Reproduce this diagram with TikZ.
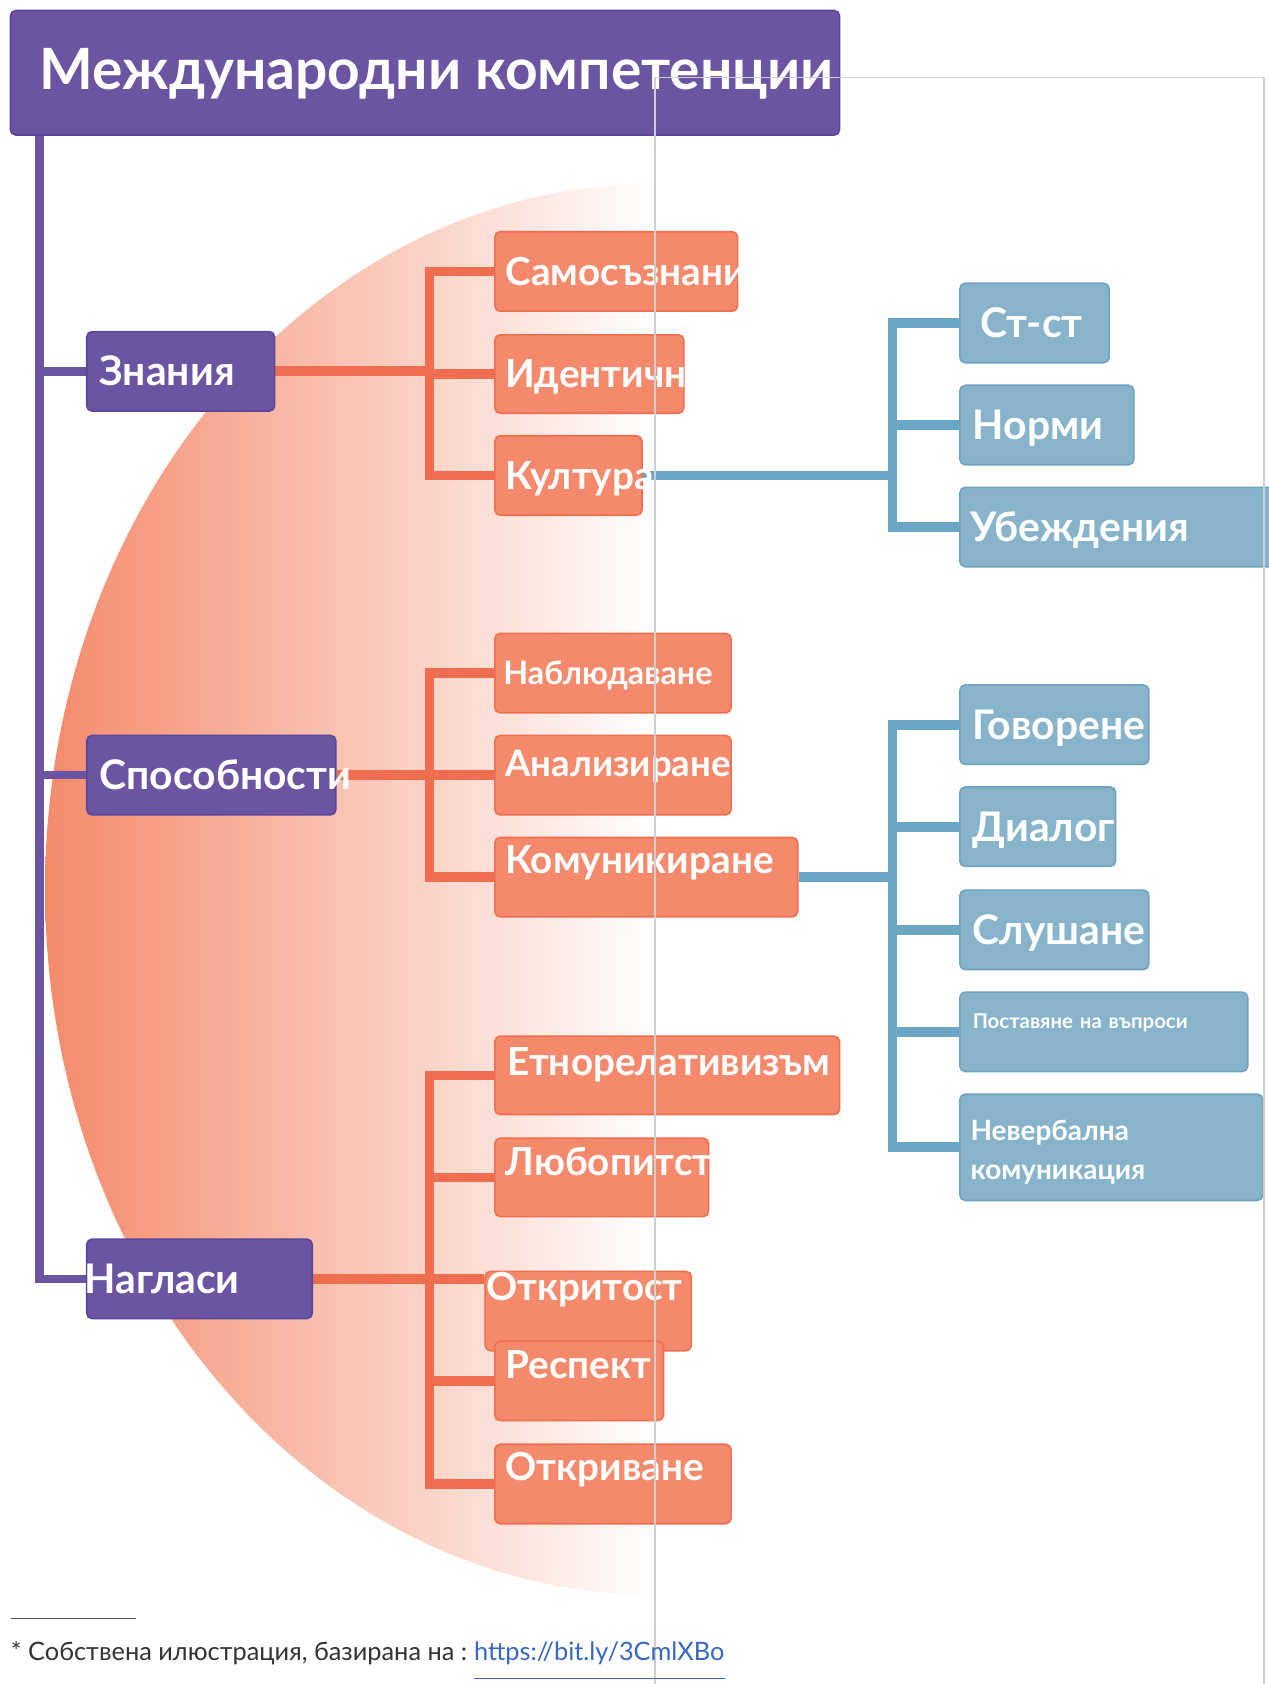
\documentclass[tikz,border=0pt]{standalone}
\usepackage{fontspec}
\setmainfont{Lato}
\usepackage{tikz}
\usetikzlibrary{positioning, backgrounds}

\definecolor{cPurple}{HTML}{6B55A3}
\definecolor{cPurpleD}{HTML}{5A469A}
\definecolor{cOrange}{HTML}{F4896C}
\definecolor{cOrangeD}{HTML}{EF6E4F}
\definecolor{cBlue}{HTML}{88B4CB}
\definecolor{cBlueD}{HTML}{6FA4C1}
\definecolor{cBlueL}{HTML}{6BA6C4}
\definecolor{cGrad}{HTML}{F48A6B}
\definecolor{cGrey}{HTML}{CFCFCF}
\definecolor{cRule}{HTML}{555555}
\definecolor{cText}{HTML}{333333}
\definecolor{cLink}{HTML}{3568C0}

\begin{document}
\begin{tikzpicture}[x=1pt, y=-1pt,
    box/.style={rounded corners=5pt, line width=1.5pt, anchor=north west,
                align=left, inner ysep=0pt, minimum height=74pt, text=white},
    pbox/.style={box, fill=cPurple, draw=cPurpleD, inner xsep=12pt, text height=27pt,
                 text depth=0pt, font=\bfseries\fontsize{38}{40}\selectfont},
    obox/.style={box, fill=cOrange, draw=cOrangeD, inner xsep=10pt, text height=26pt,
                 text depth=0pt, font=\bfseries\fontsize{36}{40}\selectfont},
    bbox/.style={box, fill=cBlue, draw=cBlueD, inner xsep=12pt, text height=27pt,
                 text depth=0pt, font=\bfseries\fontsize{38}{40}\selectfont},
    pline/.style={cPurple, line width=8pt},
    oline/.style={cOrangeD, line width=9pt},
    bline/.style={cBlueL, line width=9pt},
    gline/.style={cGrey, line width=1.5pt},
    foot/.style={inner sep=0pt, text=cText, font=\fontsize{23.6}{28}\selectfont}
]
\useasboundingbox (0,0) rectangle (1181,1568);

% background half disc
\begin{scope}[on background layer]
  \shade[left color=cGrad, middle color=cGrad!58!white, right color=white]
    (610,171) arc[start angle=270, end angle=90, x radius=568, y radius=657] -- cycle;
\end{scope}

\node[box, fill=cPurple, draw=cPurpleD, minimum width=772pt, minimum height=116pt,
      text height=38pt, text depth=7pt, font=\bfseries\fontsize{53}{58}\selectfont]
      (title) at (9,9) {\hspace*{22pt}Международни компетенции};

% main branches
\node[pbox, text width=151pt] (znan) at (80,308) {Знания};
\node[pbox, text width=208pt] (spos) at (80,684) {Способности};
\node[pbox, inner xsep=-2pt, text width=214pt] (nagl) at (80,1153) {Нагласи};

% Знания
\node[obox, text width=206pt] (samo) at (460,215) {Самосъзнани};
\node[obox, text width=156pt, minimum height=73pt] (iden) at (460,311) {Идентичн};
\node[obox, text width=117pt] (kult) at (460,405) {Култура};

% Способности
\node[obox, inner xsep=8pt, text width=204pt, text height=21.5pt,
      font=\bfseries\fontsize{30}{34}\selectfont] (nabl) at (460,589) {Наблюдаване};
\node[obox, text width=200pt, text height=24.4pt, text depth=22pt,
      font=\bfseries\fontsize{34}{38}\selectfont] (anal) at (460,684) {Анализиране};
\node[obox, text width=262pt, text depth=32pt] (komu) at (460,779) {Комуникиране};

% Нагласи
\node[obox, inner xsep=12pt, text width=297pt, minimum height=73pt, text depth=26pt]
      (etno) at (460,964) {Етнорелативизъм};
\node[obox, text width=179pt, minimum height=73pt, text depth=30pt] (lubo) at (460,1059) {Любопитст};
\node[obox, inner xsep=1pt, text width=190pt, text depth=46pt] (otkt) at (451,1183) {Откритост};
\node[obox, text width=137pt, text depth=30pt] (resp) at (460,1248) {Респект};
\node[obox, text width=200pt, text depth=32pt] (otkv) at (460,1344) {Откриване};

% Култура
\node[bbox, inner xsep=19pt, text width=101pt] (stst) at (893,263) {Ст-ст};
\node[bbox, text width=138pt] (norm) at (893,358) {Норми};
\node[bbox, inner xsep=10pt, text width=280pt] (ubej) at (893,453) {Убеждения};

% Комуникиране
\node[bbox, text width=152pt] (govo) at (893,637) {Говорене};
\node[bbox, text width=121pt] (dial) at (893,732) {Диалог};
\node[bbox, text width=152pt] (slus) at (893,828) {Слушане};
\node[bbox, text width=244pt, text height=13.6pt, text depth=20pt,
      font=\bfseries\fontsize{19}{23}\selectfont] (post) at (893,923) {Поставяне на въпроси};
\node[bbox, inner xsep=10pt, text width=262pt, minimum height=99pt, text height=18.6pt,
      text depth=31pt, font=\bfseries\fontsize{26}{36}\selectfont]
      (neve) at (893,1018) {Невербална\\комуникация};

\coordinate (trunk) at (37,125);
\coordinate (zj) at (400,347);
\coordinate (sj) at (400,721);
\coordinate (nj) at (400,1190);
\coordinate (kj) at (831,441);
\coordinate (cj) at (831,816);

% connectors
\begin{scope}[on background layer]
  \draw[pline] (trunk) |- (nagl.west);
  \draw[pline] (znan.west) -- (znan.west -| trunk);
  \draw[pline] (spos.west) -- (spos.west -| trunk);

  \draw[oline] (znan.east) -- (znan.east -| zj);
  \foreach \n in {samo,iden,kult} \draw[oline] (\n.west) -| (zj);
  \draw[oline] (spos.east) -- (spos.east -| sj);
  \foreach \n in {nabl,anal,komu} \draw[oline] (\n.west) -| (sj);
  \draw[oline] (nagl.east) -- (nagl.east -| otkt.west);
  \foreach \n in {etno,lubo,resp,otkv} \draw[oline] (\n.west) -| (nj);

  \draw[bline] (kult.east) -- (kult.east -| kj);
  \foreach \n in {stst,norm,ubej} \draw[bline] (\n.west) -| (kj);
  \draw[bline] (komu.east) -- (komu.east -| cj);
  \foreach \n in {govo,dial,slus,post,neve} \draw[bline] (\n.west) -| (cj);
\end{scope}

% frame
\draw[gline] (610,1568) |- (1177,72) -- (1177,1568);

% footnote
\draw[cRule, line width=1pt] (10,1507) -- (127,1507);
\node[foot, anchor=base west] (note) at (10,1546) {* Собствена илюстрация, базирана на :};
\node[foot, text=cLink, base right=6pt of note] (link) {https://bit.ly/3CmlXBo};
\draw[cLink, line width=1pt] ([yshift=-17pt]link.base west) -- ([yshift=-17pt]link.base east);
\end{tikzpicture}
\end{document}
